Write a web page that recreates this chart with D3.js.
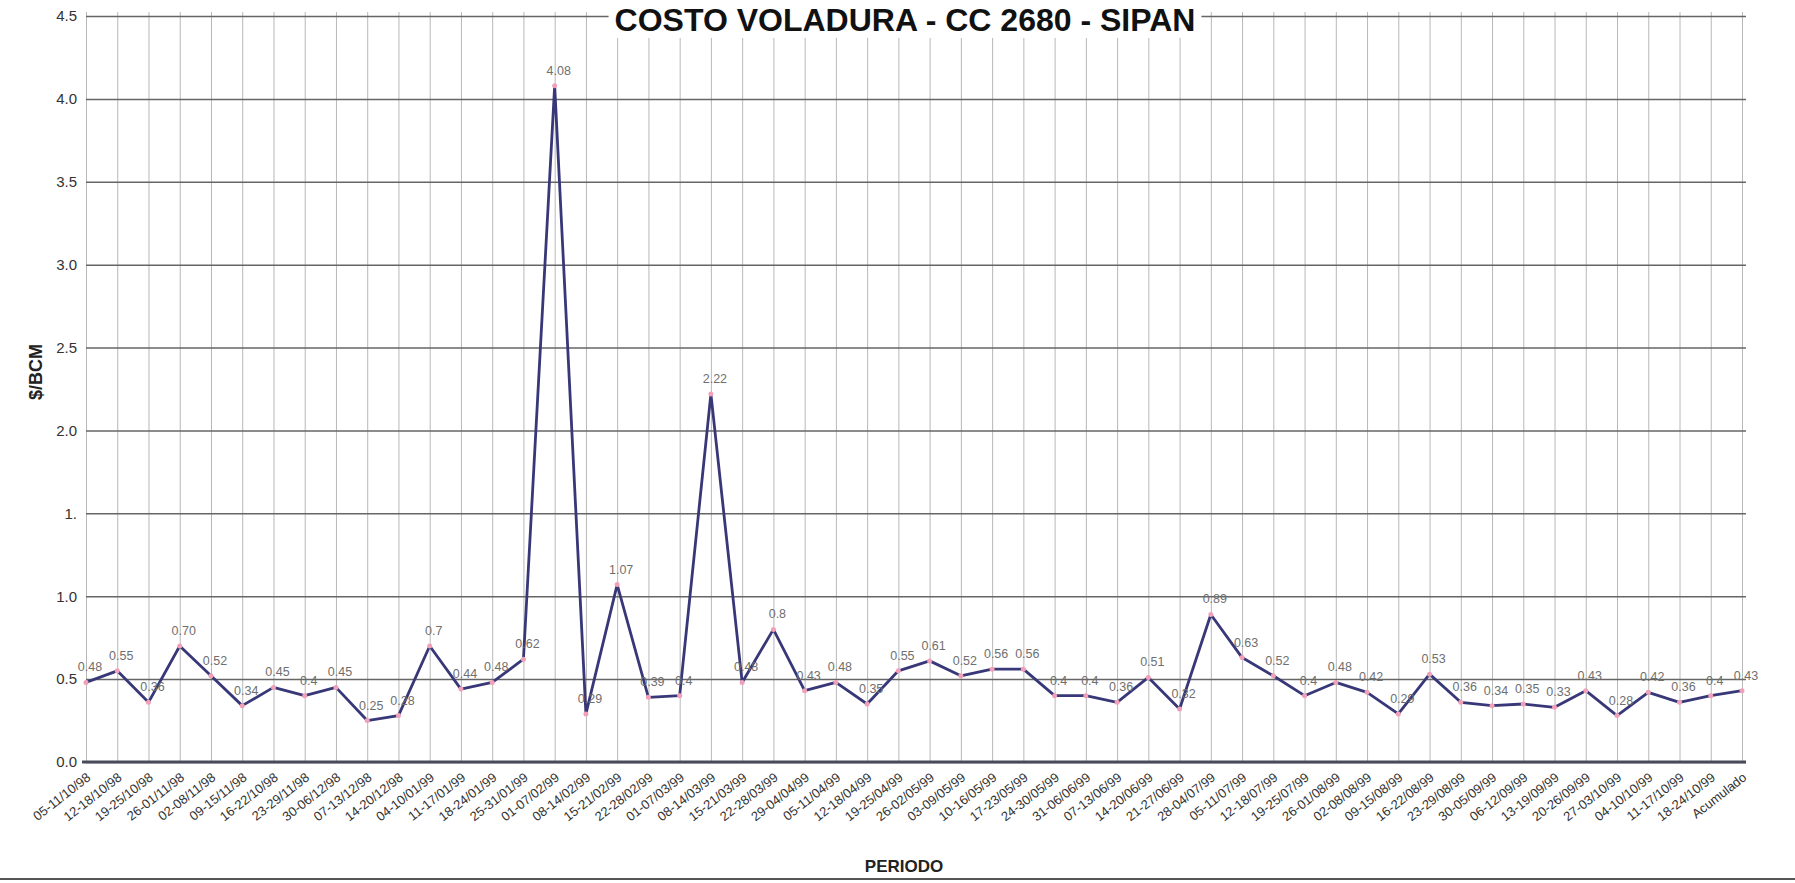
<!DOCTYPE html>
<html>
<head>
<meta charset="utf-8">
<script src="https://cdn.jsdelivr.net/npm/d3@7"></script>
<style>
  html, body { margin: 0; padding: 0; background: #ffffff; }
  svg { display: block; font-family: "Liberation Sans", Arial, sans-serif; }
</style>
</head>
<body>
<svg id="chart" width="1795" height="883"></svg>
<script>
const chartTitle = "COSTO VOLADURA - CC 2680 - SIPAN";
const xTitle = "PERIODO";
const yTitle = "$/BCM";

const categories = [
  "05-11/10/98","12-18/10/98","19-25/10/98","26-01/11/98","02-08/11/98","09-15/11/98",
  "16-22/10/98","23-29/11/98","30-06/12/98","07-13/12/98","14-20/12/98","04-10/01/99",
  "11-17/01/99","18-24/01/99","25-31/01/99","01-07/02/99","08-14/02/99","15-21/02/99",
  "22-28/02/99","01-07/03/99","08-14/03/99","15-21/03/99","22-28/03/99","29-04/04/99",
  "05-11/04/99","12-18/04/99","19-25/04/99","26-02/05/99","03-09/05/99","10-16/05/99",
  "17-23/05/99","24-30/05/99","31-06/06/99","07-13/06/99","14-20/06/99","21-27/06/99",
  "28-04/07/99","05-11/07/99","12-18/07/99","19-25/07/99","26-01/08/99","02-08/08/99",
  "09-15/08/99","16-22/08/99","23-29/08/99","30-05/09/99","06-12/09/99","13-19/09/99",
  "20-26/09/99","27-03/10/99","04-10/10/99","11-17/10/99","18-24/10/99","Acumulado"
];

const values = [
  0.48, 0.55, 0.36, 0.70, 0.52, 0.34, 0.45, 0.4, 0.45, 0.25, 0.28, 0.7,
  0.44, 0.48, 0.62, 4.08, 0.29, 1.07, 0.39, 0.4, 2.22, 0.48, 0.8, 0.43,
  0.48, 0.35, 0.55, 0.61, 0.52, 0.56, 0.56, 0.4, 0.4, 0.36, 0.51, 0.32,
  0.89, 0.63, 0.52, 0.4, 0.48, 0.42, 0.29, 0.53, 0.36, 0.34, 0.35, 0.33,
  0.43, 0.28, 0.42, 0.36, 0.4, 0.43
];

const valueLabels = [
  "0.48","0.55","0.36","0.70","0.52","0.34","0.45","0.4","0.45","0.25","0.28","0.7",
  "0.44","0.48","0.62","4.08","0.29","1.07","0.39","0.4","2.22","0.48","0.8","0.43",
  "0.48","0.35","0.55","0.61","0.52","0.56","0.56","0.4","0.4","0.36","0.51","0.32",
  "0.89","0.63","0.52","0.4","0.48","0.42","0.29","0.53","0.36","0.34","0.35","0.33",
  "0.43","0.28","0.42","0.36","0.4","0.43"
];

const yTickValues = [0, 0.5, 1.0, 1.5, 2.0, 2.5, 3.0, 3.5, 4.0, 4.5];
const yTickLabels = ["0.0","0.5","1.0","1.","2.0","2.5","3.0","3.5","4.0","4.5"];

const svg = d3.select("#chart");
const mLeft = 86, mRight = 1742, mTop = 16, mBottom = 762;

const x = d3.scalePoint().domain(categories).range([mLeft, mRight]);
const y = d3.scaleLinear().domain([0, 4.5]).range([mBottom, mTop]);

// vertical gridlines
const gx = svg.append("g")
  .attr("transform", `translate(0,${mBottom})`)
  .call(d3.axisBottom(x).tickSize(-(mBottom - mTop + 4)).tickFormat(""));
gx.select(".domain").remove();
gx.selectAll(".tick line").attr("stroke", "#b8b8b8").attr("stroke-width", 1);

// horizontal gridlines + y labels
const gy = svg.append("g")
  .attr("transform", `translate(${mLeft},0)`)
  .call(d3.axisLeft(y).tickValues(yTickValues)
    .tickFormat((d, i) => yTickLabels[i])
    .tickSize(-(mRight - mLeft + 4)).tickPadding(9));
gy.select(".domain").remove();
gy.selectAll(".tick line").attr("stroke", "#666").attr("stroke-width", 1.5);
gy.selectAll(".tick text").attr("fill", "#333").style("font-size", "15px");

// baseline
svg.append("line")
  .attr("x1", mLeft - 4).attr("x2", mRight + 4)
  .attr("y1", y(0)).attr("y2", y(0))
  .attr("stroke", "#4a4a5a").attr("stroke-width", 2.8);

// x labels rotated
const gxl = svg.append("g")
  .attr("transform", `translate(0,${mBottom})`)
  .call(d3.axisBottom(x).tickSize(0).tickPadding(0));
gxl.select(".domain").remove();
gxl.selectAll(".tick text")
  .attr("text-anchor", "end")
  .attr("dy", 0)
  .attr("transform", "translate(5,17) rotate(-38)")
  .attr("fill", "#333")
  .style("font-size", "13px");

// line
svg.append("path")
  .datum(values)
  .attr("fill", "none")
  .attr("stroke", "#383878")
  .attr("stroke-width", 2.8)
  .attr("stroke-linejoin", "round")
  .attr("d", d3.line().x((d, i) => x(categories[i])).y(d => y(d)));

// markers
svg.append("g").selectAll("circle")
  .data(values).join("circle")
  .attr("cx", (d, i) => x(categories[i]))
  .attr("cy", d => y(d))
  .attr("r", 2.5)
  .attr("fill", "#f0a0b8");

// data labels
svg.append("g").selectAll("text")
  .data(values).join("text")
  .attr("x", (d, i) => x(categories[i]) + 4)
  .attr("y", d => y(d) - 11)
  .attr("text-anchor", "middle")
  .attr("fill", "#6f6f6f")
  .style("font-size", "12.5px")
  .text((d, i) => valueLabels[i]);

// title with white backing
const tg = svg.append("g");
const tRect = tg.append("rect").attr("fill", "#fff");
const tText = tg.append("text")
  .attr("x", 905).attr("y", 31)
  .attr("text-anchor", "middle")
  .style("font-size", "32px").style("font-weight", "bold")
  .attr("fill", "#111")
  .text(chartTitle);
const bb = tText.node().getBBox();
tRect.attr("x", bb.x - 6).attr("y", Math.max(0, bb.y)).attr("width", bb.width + 12).attr("height", bb.height);

svg.append("text")
  .attr("x", 904).attr("y", 872)
  .attr("text-anchor", "middle")
  .style("font-size", "17px").style("font-weight", "bold")
  .attr("fill", "#222")
  .text(xTitle);

svg.append("text")
  .attr("transform", "translate(42,372) rotate(-90)")
  .attr("text-anchor", "middle")
  .style("font-size", "18px").style("font-weight", "bold")
  .attr("fill", "#222")
  .text(yTitle);

// bottom page edge line (scan)
svg.append("line")
  .attr("x1", 0).attr("x2", 1795)
  .attr("y1", 879).attr("y2", 879)
  .attr("stroke", "#555").attr("stroke-width", 2);
</script>
</body>
</html>
